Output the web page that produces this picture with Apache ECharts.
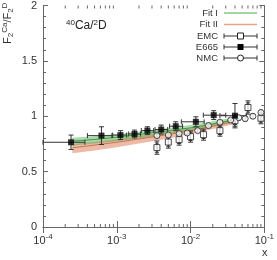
<!DOCTYPE html>
<html><head><meta charset="utf-8">
<script src="https://cdn.jsdelivr.net/npm/echarts@6/dist/echarts.min.js"></script>
<style>html,body{margin:0;padding:0;background:#fff}#c{width:277px;height:260px}</style>
</head><body><div id="c"></div>
<script>
// ---- data ----
const xTicks = [1e-4, 1e-3, 1e-2, 1e-1];
const yTicks = [0, 0.5, 1, 1.5, 2];

const fitX     = [2.5e-4, 5e-4, 1e-3, 2e-3, 5e-3, 1e-2, 2e-2, 4e-2];
const fit1Mid  = [0.775, 0.79, 0.81, 0.835, 0.87, 0.895, 0.93, 0.97];
const fit1Lo   = [0.735, 0.755, 0.775, 0.80, 0.84, 0.87, 0.905, 0.945];
const fit1Hi   = [0.805, 0.82, 0.84, 0.86, 0.895, 0.92, 0.955, 0.99];
const fit2Mid  = [0.715, 0.74, 0.765, 0.795, 0.835, 0.87, 0.91, 0.955];
const fit2Lo   = [0.665, 0.69, 0.72, 0.755, 0.80, 0.84, 0.885, 0.93];
const fit2Hi   = [0.75, 0.77, 0.795, 0.825, 0.86, 0.89, 0.93, 0.975];

const e665X   = [2.4e-4, 6.2e-4, 1.12e-3, 1.74e-3, 2.6e-3, 4.0e-3, 6.3e-3, 0.0118, 0.0206, 0.040];
const e665Y   = [0.765, 0.825, 0.83, 0.84, 0.87, 0.88, 0.91, 0.95, 1.01, 1.005];
const e665Err = [0.065, 0.08, 0.04, 0.035, 0.035, 0.04, 0.04, 0.045, 0.04, 0.11];
const e665XLo = [1e-4, 4.0e-4, 8.8e-4, 1.45e-3, 2.15e-3, 3.3e-3, 5.2e-3, 7.5e-3, 0.0149, 0.025];
const e665XHi = [3.7e-4, 8.6e-4, 1.36e-3, 2.1e-3, 3.16e-3, 4.9e-3, 7.8e-3, 0.0153, 0.030, 0.057];

const emcX    = [0.0035, 0.005, 0.007, 0.01, 0.015, 0.025, 0.04, 0.06, 0.09];
const emcY    = [0.717, 0.767, 0.789, 0.816, 0.834, 0.87, 0.96, 1.079, 0.982];
const emcErr  = [0.06, 0.055, 0.05, 0.05, 0.05, 0.05, 0.05, 0.06, 0.05];

const nmcX    = [0.0035, 0.005, 0.007, 0.009, 0.0125, 0.0175, 0.025, 0.035, 0.045, 0.055, 0.07, 0.09];
const nmcY    = [0.825, 0.83, 0.843, 0.849, 0.87, 0.915, 0.946, 0.966, 0.987, 0.978, 1.0, 1.034];
const nmcErr  = [0.015, 0.015, 0.015, 0.015, 0.015, 0.015, 0.015, 0.015, 0.02, 0.02, 0.02, 0.02];

// ---- chart ----
const FONT = 'Liberation Sans, Arial, sans-serif';
const AX = '#666';
const LF = 9.5;
const chart = echarts.init(document.getElementById('c'), null, {renderer: 'canvas'});

const minorX = [];
for (let d = -4; d < -1; d++) for (let k = 2; k <= 9; k++) minorX.push([k * Math.pow(10, d)]);

function bandPoly(lo, hi) {
  return function (params, api) {
    const pts = [];
    for (let i = 0; i < fitX.length; i++) pts.push(api.coord([fitX[i], hi[i]]));
    for (let i = fitX.length - 1; i >= 0; i--) pts.push(api.coord([fitX[i], lo[i]]));
    return pts;
  };
}

function errRender(capV, capH) {
  return function (params, api) {
    const x = api.value(0), y = api.value(1), ylo = api.value(2), yhi = api.value(3), xlo = api.value(4), xhi = api.value(5);
    const ch = [];
    const st = {stroke: '#333', lineWidth: 1};
    const a = api.coord([x, ylo]), b = api.coord([x, yhi]);
    ch.push({type: 'line', shape: {x1: a[0], y1: a[1], x2: b[0], y2: b[1]}, style: st});
    ch.push({type: 'line', shape: {x1: a[0] - capV, y1: a[1], x2: a[0] + capV, y2: a[1]}, style: st});
    ch.push({type: 'line', shape: {x1: b[0] - capV, y1: b[1], x2: b[0] + capV, y2: b[1]}, style: st});
    if (xlo !== xhi) {
      const c = api.coord([xlo, y]), d = api.coord([xhi, y]);
      ch.push({type: 'line', shape: {x1: c[0], y1: c[1], x2: d[0], y2: d[1]}, style: st});
      ch.push({type: 'line', shape: {x1: c[0], y1: c[1] - capH, x2: c[0], y2: c[1] + capH}, style: st});
      ch.push({type: 'line', shape: {x1: d[0], y1: d[1] - capH, x2: d[0], y2: d[1] + capH}, style: st});
    }
    return {type: 'group', children: ch};
  };
}

const e665Bars = e665X.map((x, i) => [x, e665Y[i], e665Y[i] - e665Err[i], e665Y[i] + e665Err[i], e665XLo[i], e665XHi[i]]);
const emcBars = emcX.map((x, i) => [x, emcY[i], emcY[i] - emcErr[i], emcY[i] + emcErr[i], x, x]);
const emcStat = emcX.map((x, i) => [x, emcY[i], emcY[i] - emcErr[i] * 0.7, emcY[i] + emcErr[i] * 0.7, x, x]);
const nmcBars = nmcX.map((x, i) => [x, nmcY[i], nmcY[i] - nmcErr[i], nmcY[i] + nmcErr[i], x, x]);

const supFmt = v => {
  const e = Math.round(Math.log10(v));
  return '{b|10}{s|' + e + '}';
};

const xAxisBase = {
  type: 'log', logBase: 10, min: 1e-4, max: 0.1, gridIndex: 0,
  axisLine: {show: true, lineStyle: {color: AX, width: 1}},
  axisTick: {show: true, inside: true, length: 6, lineStyle: {color: AX}},
  splitLine: {show: false}, minorTick: {show: false}
};
const yAxisBase = {
  type: 'value', min: 0, max: 2, interval: 0.5,
  axisLine: {show: true, lineStyle: {color: AX, width: 1}},
  axisTick: {show: true, inside: true, length: 5, lineStyle: {color: AX}},
  minorTick: {show: true, splitNumber: 5, length: 3, lineStyle: {color: AX}},
  splitLine: {show: false}
};

const option = {
  animation: false,
  backgroundColor: '#fff',
  textStyle: {fontFamily: FONT},
  grid: {left: 43, right: 9, top: 4, bottom: 33, containLabel: false},
  xAxis: [
    Object.assign({}, xAxisBase, {
      position: 'bottom',
      axisLabel: {
        show: true, margin: 6, formatter: supFmt, color: '#333',
        rich: {b: {fontSize: 11, fontFamily: FONT, color: '#333'},
               s: {fontSize: 8, fontFamily: FONT, color: '#333', verticalAlign: 'top', padding: [0, 0, 8, 0]}}
      }
    }),
    Object.assign({}, xAxisBase, {position: 'top', axisLabel: {show: false}})
  ],
  yAxis: [
    Object.assign({}, yAxisBase, {
      position: 'left',
      axisLabel: {show: true, margin: 6, fontSize: 11, color: '#333', fontFamily: FONT,
                  formatter: v => (yTicks.indexOf(v) >= 0 ? String(v) : '')}
    }),
    Object.assign({}, yAxisBase, {position: 'right', axisLabel: {show: false}})
  ],
  series: [
    {
      type: 'custom', silent: true, z: 1, data: minorX,
      renderItem: (params, api) => {
        const b = api.coord([api.value(0), 0]);
        const t = api.coord([api.value(0), 2]);
        return {type: 'group', children: [
          {type: 'line', shape: {x1: b[0], y1: b[1], x2: b[0], y2: b[1] - 3}, style: {stroke: AX, lineWidth: 1}},
          {type: 'line', shape: {x1: t[0], y1: t[1], x2: t[0], y2: t[1] + 3}, style: {stroke: AX, lineWidth: 1}}
        ]};
      }
    },
    {
      type: 'custom', silent: true, z: 2, data: [[0]],
      renderItem: (params, api) => ({type: 'polygon', shape: {points: bandPoly(fit2Lo, fit2Hi)(params, api)},
        style: {fill: 'rgba(222,130,95,0.55)'}})
    },
    {
      type: 'custom', silent: true, z: 3, data: [[0]],
      renderItem: (params, api) => ({type: 'polygon', shape: {points: bandPoly(fit1Lo, fit1Hi)(params, api)},
        style: {fill: 'rgba(70,165,70,0.45)'}})
    },
    {
      name: 'Fit II', type: 'line', z: 4, data: fitX.map((x, i) => [x, fit2Mid[i]]),
      showSymbol: false, lineStyle: {color: '#c8754e', width: 1}, silent: true
    },
    {
      name: 'Fit I', type: 'line', z: 4, data: fitX.map((x, i) => [x, fit1Mid[i]]),
      showSymbol: false, lineStyle: {color: '#3e9a3e', width: 1}, silent: true
    },
    {type: 'custom', z: 5, data: emcBars, renderItem: errRender(2.5, 2.5), silent: true},
    {type: 'custom', z: 5, data: emcStat, renderItem: errRender(2, 2), silent: true},
    {type: 'custom', z: 5, data: nmcBars, renderItem: errRender(2, 2), silent: true},
    {type: 'custom', z: 5, data: e665Bars, renderItem: errRender(2.5, 2.5), silent: true},
    {
      name: 'EMC', type: 'scatter', z: 6, symbol: 'rect', symbolSize: 6,
      data: emcX.map((x, i) => [x, emcY[i]]),
      itemStyle: {color: '#fff', borderColor: '#222', borderWidth: 1}
    },
    {
      name: 'NMC', type: 'scatter', z: 6, symbol: 'circle', symbolSize: 6,
      data: nmcX.map((x, i) => [x, nmcY[i]]),
      itemStyle: {color: '#fff', borderColor: '#222', borderWidth: 1}
    },
    {
      name: 'E665', type: 'scatter', z: 7, symbol: 'rect', symbolSize: 6,
      data: e665X.map((x, i) => [x, e665Y[i]]),
      itemStyle: {color: '#000'}
    }
  ],
  graphic: [
    {type: 'text', x: 1, y: 44, rotation: Math.PI / 2,
     style: {text: '{n|F}{s|2}{u|Ca}{n|/F}{s|2}{u|D}', fill: '#333',
       rich: {n: {fontSize: 11, fontFamily: FONT, fill: '#333'},
              s: {fontSize: 8, fontFamily: FONT, fill: '#333', verticalAlign: 'bottom', padding: [6, 0, 0, 0]},
              u: {fontSize: 8, fontFamily: FONT, fill: '#333', verticalAlign: 'top', padding: [0, 0, 6, 0]}}}},
    {type: 'text', x: 66, y: 19,
     style: {text: '{u|40}{n|Ca/}{u|2}{n|D}', fill: '#222',
       rich: {n: {fontSize: 12, fontFamily: FONT, fill: '#222'},
              u: {fontSize: 8, fontFamily: FONT, fill: '#222', verticalAlign: 'top', padding: [0, 0, 6, 0]}}}},
    {type: 'text', x: 262, y: 247, style: {text: 'x', fontSize: 11, fontFamily: FONT, fill: '#333'}},
    {type: 'text', x: 218, y: 13, style: {text: 'Fit I', fontSize: LF, fontFamily: FONT, fill: '#333', align: 'right', verticalAlign: 'middle'}},
    {type: 'line', shape: {x1: 224, y1: 13, x2: 257, y2: 13}, style: {stroke: '#4aa84a', lineWidth: 1}},
    {type: 'text', x: 218, y: 24.5, style: {text: 'Fit II', fontSize: LF, fontFamily: FONT, fill: '#333', align: 'right', verticalAlign: 'middle'}},
    {type: 'line', shape: {x1: 224, y1: 24.5, x2: 257, y2: 24.5}, style: {stroke: '#e0a58a', lineWidth: 1.5}},
    {type: 'text', x: 218, y: 36, style: {text: 'EMC', fontSize: LF, fontFamily: FONT, fill: '#333', align: 'right', verticalAlign: 'middle'}},
    {type: 'line', shape: {x1: 224, y1: 36, x2: 257, y2: 36}, style: {stroke: '#333', lineWidth: 1}},
    {type: 'line', shape: {x1: 224, y1: 33.5, x2: 224, y2: 38.5}, style: {stroke: '#333', lineWidth: 1}},
    {type: 'line', shape: {x1: 257, y1: 33.5, x2: 257, y2: 38.5}, style: {stroke: '#333', lineWidth: 1}},
    {type: 'rect', shape: {x: 237.5, y: 33, width: 6, height: 6}, style: {fill: '#fff', stroke: '#222', lineWidth: 1}},
    {type: 'text', x: 218, y: 47, style: {text: 'E665', fontSize: LF, fontFamily: FONT, fill: '#333', align: 'right', verticalAlign: 'middle'}},
    {type: 'line', shape: {x1: 224, y1: 47, x2: 257, y2: 47}, style: {stroke: '#333', lineWidth: 1}},
    {type: 'line', shape: {x1: 224, y1: 44.5, x2: 224, y2: 49.5}, style: {stroke: '#333', lineWidth: 1}},
    {type: 'line', shape: {x1: 257, y1: 44.5, x2: 257, y2: 49.5}, style: {stroke: '#333', lineWidth: 1}},
    {type: 'rect', shape: {x: 237.5, y: 44, width: 6, height: 6}, style: {fill: '#000'}},
    {type: 'text', x: 218, y: 58, style: {text: 'NMC', fontSize: LF, fontFamily: FONT, fill: '#333', align: 'right', verticalAlign: 'middle'}},
    {type: 'line', shape: {x1: 224, y1: 58, x2: 257, y2: 58}, style: {stroke: '#333', lineWidth: 1}},
    {type: 'line', shape: {x1: 224, y1: 55.5, x2: 224, y2: 60.5}, style: {stroke: '#333', lineWidth: 1}},
    {type: 'line', shape: {x1: 257, y1: 55.5, x2: 257, y2: 60.5}, style: {stroke: '#333', lineWidth: 1}},
    {type: 'circle', shape: {cx: 240.5, cy: 58, r: 3}, style: {fill: '#fff', stroke: '#222', lineWidth: 1}}
  ]
};
chart.setOption(option);
</script>
</body></html>
